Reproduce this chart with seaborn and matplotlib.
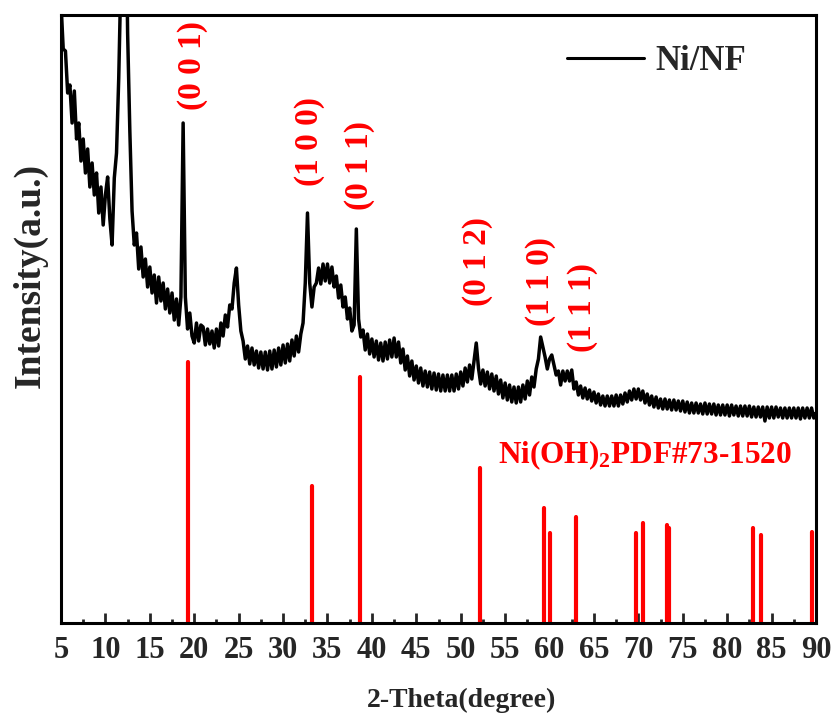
import numpy as np
import pandas as pd
import matplotlib
matplotlib.use("Agg")
import matplotlib.pyplot as plt
import seaborn as sns
from matplotlib.ticker import MultipleLocator

# ---------------- data ----------------
# measured pattern, 2-theta grid 5..90 step 0.25 (one row per degree)
theta_start, theta_step = 5.0, 0.25
intensity_rows = [
    [620, 574, 572, 530],  # 5
    [538, 500, 532, 484],  # 6
    [500, 462, 484, 450],  # 7
    [474, 436, 460, 428],  # 8
    [450, 410, 436, 398],  # 9
    [428, 446, 404, 378],  # 10
    [445, 470, 545, 650],  # 11
    [900, 770, 590, 492],  # 12
    [412, 378, 390, 354],  # 13
    [376, 346, 364, 336],  # 14
    [356, 330, 348, 320],  # 15
    [346, 322, 340, 314],  # 16
    [334, 310, 330, 303],  # 17
    [324, 298, 326, 500],  # 18
    [326, 294, 310, 287],  # 19
    [280, 300, 282, 298],  # 20
    [296, 278, 294, 279],  # 21
    [292, 275, 294, 277],  # 22
    [300, 287, 308, 296],  # 23
    [318, 314, 340, 355],  # 24
    [318, 292, 282, 264],  # 25
    [277, 259, 275, 258],  # 26
    [272, 255, 271, 254],  # 27
    [271, 253, 272, 254],  # 28
    [273, 256, 275, 258],  # 29
    [278, 260, 279, 262],  # 30
    [283, 267, 287, 271],  # 31
    [289, 300, 340, 410],  # 32
    [340, 316, 336, 340],  # 33
    [355, 339, 359, 342],  # 34
    [359, 340, 356, 336],  # 35
    [347, 325, 338, 316],  # 36
    [326, 304, 315, 292],  # 37
    [298, 394, 304, 286],  # 38
    [293, 273, 289, 269],  # 39
    [284, 266, 282, 263],  # 40
    [280, 262, 281, 264],  # 41
    [283, 266, 285, 266],  # 42
    [281, 260, 274, 253],  # 43
    [267, 247, 262, 243],  # 44
    [257, 240, 255, 237],  # 45
    [252, 236, 251, 234],  # 46
    [250, 233, 249, 232],  # 47
    [248, 232, 248, 232],  # 48
    [248, 232, 249, 234],  # 49
    [251, 237, 255, 241],  # 50
    [258, 244, 262, 280],  # 51
    [255, 239, 253, 237],  # 52
    [251, 234, 249, 232],  # 53
    [247, 229, 243, 225],  # 54
    [240, 223, 238, 221],  # 55
    [236, 220, 236, 221],  # 56
    [238, 224, 242, 228],  # 57
    [246, 236, 254, 264],  # 58
    [286, 276, 266, 254],  # 59
    [264, 268, 258, 248],  # 60
    [252, 238, 252, 242],  # 61
    [252, 242, 253, 234],  # 62
    [241, 228, 237, 225],  # 63
    [235, 224, 233, 222],  # 64
    [231, 220, 229, 218],  # 65
    [227, 217, 227, 217],  # 66
    [227, 217, 228, 217],  # 67
    [228, 219, 230, 221],  # 68
    [232, 223, 234, 224],  # 69
    [234, 223, 232, 220],  # 70
    [229, 218, 227, 216],  # 71
    [226, 215, 224, 214],  # 72
    [224, 214, 223, 213],  # 73
    [223, 213, 222, 212],  # 74
    [222, 211, 221, 210],  # 75
    [220, 210, 220, 210],  # 76
    [219, 209, 220, 209],  # 77
    [219, 209, 219, 208],  # 78
    [218, 208, 218, 208],  # 79
    [218, 207, 218, 208],  # 80
    [217, 207, 217, 207],  # 81
    [217, 207, 217, 206],  # 82
    [216, 206, 216, 206],  # 83
    [216, 202, 216, 205],  # 84
    [216, 205, 216, 206],  # 85
    [215, 205, 215, 205],  # 86
    [215, 205, 215, 205],  # 87
    [215, 204, 215, 205],  # 88
    [215, 205, 215, 205],  # 89
    [210],                 # 90
]
intensity = [v for row in intensity_rows for v in row]
two_theta = theta_start + theta_step * np.arange(len(intensity))

# reference card Ni(OH)2 PDF#73-1520: stick positions and heights
pdf_pos = [19.3, 33.3, 38.7, 52.2, 59.4, 60.1, 63.0, 69.75, 70.5, 73.2, 73.45, 82.9, 83.8, 89.6]
pdf_int = [261, 137, 246, 155, 115, 90, 106, 90, 100, 98, 95, 95, 88, 91]

# (hkl) annotations: text, 2-theta, height
hkl_text = ["(0 0 1)", "(1 0 0)", "(0 1 1)", "(0 1 2)", "(1 1 0)", "(1 1 1)"]
hkl_pos = [19.86, 33.03, 38.66, 51.84, 58.93, 63.66]
hkl_y = [558, 482, 458, 361, 342, 316]

series_name = "Ni/NF"
card_label = r"Ni(OH)$_2$PDF#73-1520"
x_ticks = list(range(5, 91, 5))

# ---------------- style ----------------
sns.set_style("ticks")
plt.rcParams["font.family"] = ["Liberation Serif", "DejaVu Serif"]
plt.rcParams["font.weight"] = "bold"
plt.rcParams["mathtext.fontset"] = "custom"
plt.rcParams["mathtext.rm"] = "Liberation Serif:bold"
plt.rcParams["mathtext.bf"] = "Liberation Serif:bold"
plt.rcParams["mathtext.it"] = "Liberation Serif:bold"
plt.rcParams["mathtext.default"] = "rm"

fig = plt.figure(figsize=(8.36, 7.22), dpi=100)
ax = fig.add_axes([61 / 836, 1 - 623 / 722, 755 / 836, 608 / 722])

df = pd.DataFrame({"two_theta": two_theta, "intensity": intensity})
sns.lineplot(data=df, x="two_theta", y="intensity", ax=ax, color="black",
             linewidth=2.5, label=series_name, estimator=None, sort=False)

ax.vlines(pdf_pos, 0, pdf_int, colors="#ff0000", linewidth=3.0,
          capstyle="round")

for t, xp, yp in zip(hkl_text, hkl_pos, hkl_y):
    ax.text(xp, yp, t, rotation=90, color="#ff0000", fontsize=24,
            fontweight="bold", ha="center", va="center")

ax.text(54.2, 168, card_label, color="#ff0000", fontsize=22.5,
        fontweight="bold", ha="left", va="center")

ax.set_xlim(5, 90)
ax.set_ylim(0, 608)
ax.set_xticks(x_ticks)
ax.xaxis.set_minor_locator(MultipleLocator(2.5))
ax.set_yticks([])
ax.tick_params(axis="x", which="major", direction="in", length=7, width=2,
               labelsize=22, pad=9, top=False)
ax.tick_params(axis="x", which="minor", direction="in", length=3, width=2,
               top=False)
for lab in ax.get_xticklabels():
    lab.set_fontweight("bold")
for sp in ax.spines.values():
    sp.set_visible(True)
    sp.set_linewidth(2.2)
    sp.set_color("black")

ax.set_xlabel("2-Theta(degree)", fontsize=20, fontweight="bold")
ax.xaxis.set_label_coords(0.531, -0.127)
ax.xaxis.label.set_va("center")
ax.set_ylabel("Intensity(a.u.)", fontsize=27, fontweight="bold")
ax.yaxis.set_label_coords(-0.041, 0.571)
ax.yaxis.label.set_va("center")

leg = ax.legend(loc="center right", bbox_to_anchor=(0.908, 0.923),
                frameon=False, fontsize=25, handlelength=2.2,
                handletextpad=0.35, borderpad=0, borderaxespad=0)
for line in leg.get_lines():
    line.set_linewidth(2.2)
for txt in leg.get_texts():
    txt.set_fontweight("bold")

fig.savefig("out.png", dpi=100)
